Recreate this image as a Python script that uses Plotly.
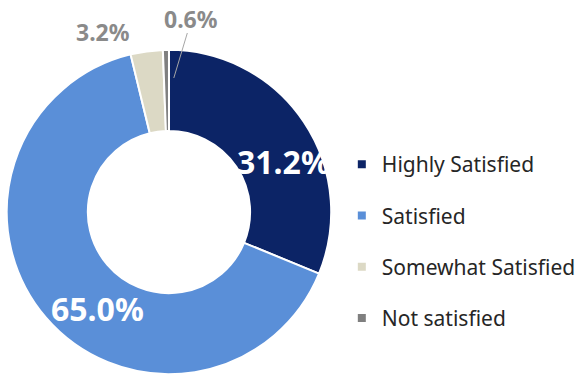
import plotly.graph_objects as go

# Survey results: satisfaction levels
categories = ["Highly Satisfied", "Satisfied", "Somewhat Satisfied", "Not satisfied"]
shares = [31.2, 65.0, 3.2, 0.6]
colors = ["#0c2466", "#5a8fd8", "#dcd9c5", "#7f7f7f"]

FONT = "Noto Sans"
W, H = 581, 380


def px(x):
    return x / W


def py(y):
    return 1 - y / H


fig = go.Figure()

fig.add_trace(go.Pie(
    labels=categories,
    values=shares,
    sort=False,
    direction="clockwise",
    rotation=0,
    hole=0.5,
    marker=dict(colors=colors, line=dict(color="white", width=2)),
    textinfo="none",
    showlegend=False,
    domain=dict(x=[px(7), px(343)], y=[py(380), py(44)]),
))

# Legend entries as small square markers
for name, col in zip(categories, colors):
    fig.add_trace(go.Scatter(
        x=[None], y=[None], mode="markers", name=name,
        marker=dict(symbol="square", size=8, color=col),
        legendgroup=name, showlegend=True,
    ))

# Percentage labels
label_style = [
    dict(x=294, y=161, color="white", size=32),
    dict(x=101, y=308, color="white", size=32),
    dict(x=107, y=32, color="#8a8a8a", size=23),
    dict(x=198, y=19, color="#8a8a8a", size=23),
]
for v, p in zip(shares, label_style):
    fig.add_annotation(
        x=px(p["x"]), y=py(p["y"]), xref="paper", yref="paper",
        text=f"<b>{v:.1f}%</b>", showarrow=False,
        font=dict(family=FONT, size=p["size"], color=p["color"]),
        xanchor="center", yanchor="middle",
    )

# Leader line for the smallest slice label
fig.add_shape(
    type="line", xref="paper", yref="paper",
    x0=px(194), y0=py(33), x1=px(180), y1=py(78),
    line=dict(color="#a6a6a6", width=1),
)

fig.update_layout(
    width=W, height=H,
    margin=dict(l=0, r=0, t=0, b=0),
    paper_bgcolor="white", plot_bgcolor="white",
    xaxis=dict(visible=False), yaxis=dict(visible=False),
    legend=dict(
        x=px(354), y=py(144), xanchor="left", yanchor="top",
        font=dict(family=FONT, size=21, color="#262626"),
        tracegroupgap=21, bgcolor="rgba(0,0,0,0)",
    ),
)

fig.write_html("out.html")
